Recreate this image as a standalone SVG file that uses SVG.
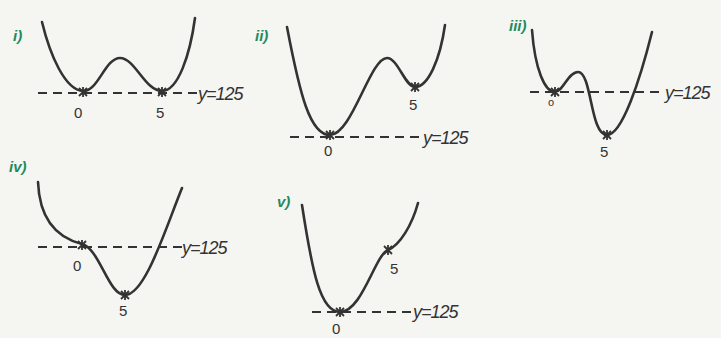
<svg xmlns="http://www.w3.org/2000/svg" width="721" height="338" viewBox="0 0 721 338">
<defs>
<style>
.c{fill:none;stroke:#333;stroke-width:2.6;stroke-linecap:round;stroke-linejoin:round}
.d{fill:none;stroke:#333;stroke-width:2;stroke-dasharray:9,6}
.t{font-family:"Liberation Sans",Arial,sans-serif;fill:#333;font-style:italic}
.y{font-size:18px;letter-spacing:-1px}
.n{font-size:15px;font-style:normal}
.g{font-family:"Liberation Sans",Arial,sans-serif;fill:#1f8a5c;font-size:15px;font-weight:bold;font-style:italic}
</style>
<path id="x" d="M-4,-4 L4,4 M4,-4 L-4,4 M0,-5 L0,5" fill="none" stroke="#333" stroke-width="1.8"/>
</defs>
<rect width="721" height="338" fill="#f5f5f2"/>
<g id="panel-i">
<text class="g" x="13" y="41">i)</text>
<line class="d" x1="38" y1="93" x2="198" y2="93"/>
<path class="c" d="M42,22 C50,55 65,90 83,91 C98,92 105,58 120,58 C135,58 145,91 162,91 C178,91 190,55 195,18"/>
<use href="#x" x="83" y="92"/>
<use href="#x" x="162" y="92"/>
<text class="t n" x="74" y="118">0</text>
<text class="t n" x="156" y="118">5</text>
<text class="t y" x="198" y="100">y=125</text>
</g>
<g id="panel-ii">
<text class="g" x="255" y="41">ii)</text>
<line class="d" x1="290" y1="137" x2="423" y2="137"/>
<path class="c" d="M287,27 C300,95 310,135 330,135 C352,135 370,58 387,58 C398,58 405,87 415,87 C428,87 440,60 445,25"/>
<use href="#x" x="330" y="135"/>
<use href="#x" x="415" y="87"/>
<text class="t n" x="324" y="156">0</text>
<text class="t n" x="409" y="110">5</text>
<text class="t y" x="423" y="144">y=125</text>
</g>
<g id="panel-iii">
<text class="g" x="509" y="31">iii)</text>
<line class="d" x1="530" y1="92" x2="665" y2="92"/>
<path class="c" d="M532,30 C535,70 545,92 555,92 C563,92 568,72 578,72 C592,72 590,135 607,135 C622,135 640,80 652,32"/>
<use href="#x" x="555" y="92"/>
<use href="#x" x="607" y="135"/>
<text class="t n" x="548" y="106" style="font-size:11px">o</text>
<text class="t n" x="600" y="157">5</text>
<text class="t y" x="665" y="99">y=125</text>
</g>
<g id="panel-iv">
<text class="g" x="9" y="172">iv)</text>
<line class="d" x1="38" y1="247" x2="182" y2="247"/>
<path class="c" d="M38,182 C40,232 70,241 82,244 C100,249 108,295 125,295 C145,295 165,230 182,188"/>
<use href="#x" x="82" y="245"/>
<use href="#x" x="125" y="295"/>
<text class="t n" x="73" y="271">0</text>
<text class="t n" x="119" y="316">5</text>
<text class="t y" x="182" y="254">y=125</text>
</g>
<g id="panel-v">
<text class="g" x="277" y="207">v)</text>
<line class="d" x1="312" y1="312" x2="413" y2="312"/>
<path class="c" d="M302,205 C312,270 320,312 340,312 C362,312 375,255 388,250 C400,245 412,225 418,203"/>
<use href="#x" x="340" y="312"/>
<use href="#x" x="388" y="250"/>
<text class="t n" x="332" y="334">0</text>
<text class="t n" x="390" y="274">5</text>
<text class="t y" x="413" y="318">y=125</text>
</g>
</svg>
